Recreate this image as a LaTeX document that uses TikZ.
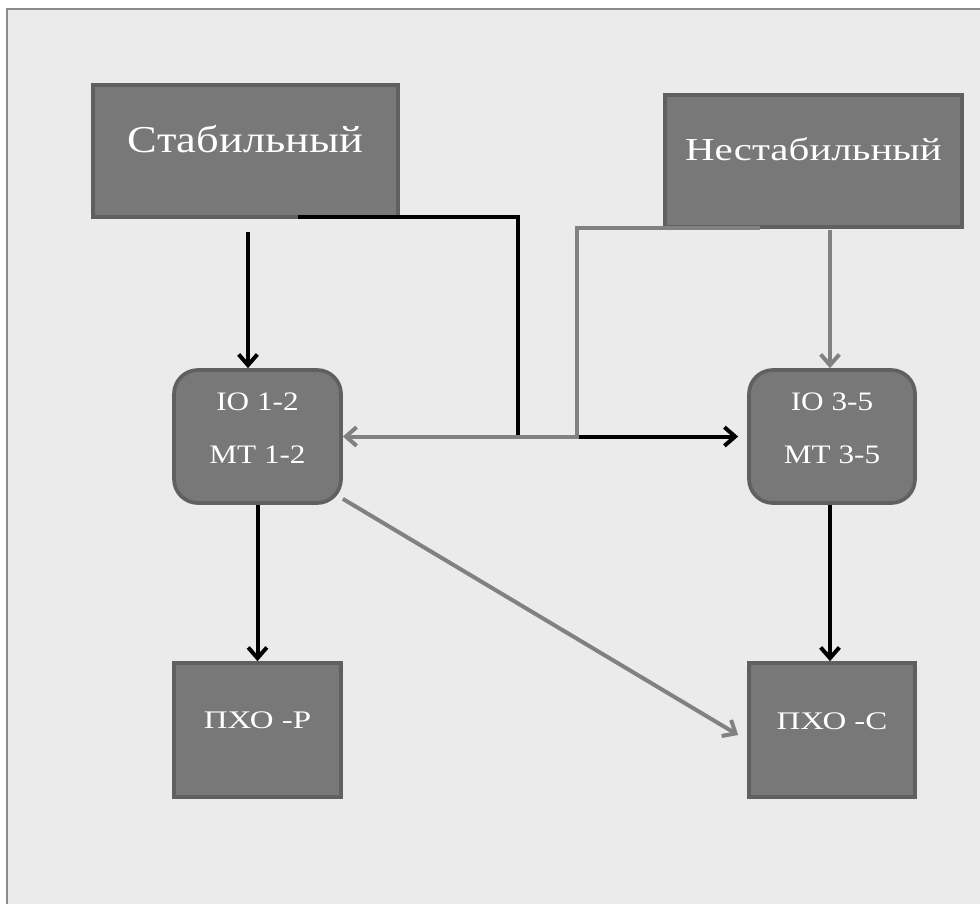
\documentclass[tikz,border=0pt]{standalone}
\usepackage{graphicx}
\usepackage{fontspec}
\setmainfont{Liberation Serif}
\usetikzlibrary{arrows.meta,calc}
\definecolor{bgc}{HTML}{EBEBEB}
\definecolor{framec}{HTML}{8C8C8C}
\definecolor{boxc}{HTML}{787878}
\definecolor{boxb}{HTML}{606060}
\definecolor{grayl}{HTML}{818181}
\newcommand{\wide}[2][1.17]{\scalebox{#1}[1]{#2}}
\newcommand{\lift}[2]{\raisebox{#1}[\height][\depth]{#2}}
\tikzset{
  box/.style={draw=boxb, fill=boxc, line width=2.8pt, text=white, inner sep=0pt, align=center},
  rbox/.style={box, rounded corners=18pt},
  blk/.style={draw=black, line width=3pt, -{Straight Barb[length=8pt,width=14pt,line width=3pt]}},
  gry/.style={draw=grayl, line width=3pt, -{Straight Barb[length=8pt,width=14pt,line width=3pt]}},
}
\begin{document}
\begin{tikzpicture}[x=0.75pt,y=-0.75pt]
\useasboundingbox (0,0) rectangle (980,904);
\fill[white] (0,0) rectangle (980,904);
\fill[bgc] (7,9) rectangle (980,904);
\draw[framec, line width=1.2pt] (7,904) -- (7,9) -- (980,9);

\node[box, minimum width={305*0.75pt}, minimum height={132*0.75pt}, font=\fontsize{28.5pt}{30pt}\selectfont] (stab) at (245.5,151) {\lift{9pt}{\wide{Стабильный}}};
\node[box, minimum width={297*0.75pt}, minimum height={132*0.75pt}, font=\fontsize{24pt}{26pt}\selectfont] (nest) at (813.5,161) {\lift{8.5pt}{\wide[1.28]{Нестабильный}}};
\node[rbox, minimum width={167*0.75pt}, minimum height={133*0.75pt}, font=\fontsize{20pt}{24pt}\selectfont] (io12) at (257.5,436.5) {\lift{4.5pt}{\begin{tabular}{@{}c@{}}\wide{IO 1-2}\\[15.75pt]\wide{MT 1-2}\end{tabular}}};
\node[rbox, minimum width={166*0.75pt}, minimum height={133*0.75pt}, font=\fontsize{20pt}{24pt}\selectfont] (io35) at (832,436.5) {\lift{4.5pt}{\begin{tabular}{@{}c@{}}\wide{IO 3-5}\\[15.75pt]\wide{MT 3-5}\end{tabular}}};
\node[box, minimum width={167*0.75pt}, minimum height={134*0.75pt}, font=\fontsize{19pt}{21pt}\selectfont] (pxor) at (257.5,730) {\lift{7.5pt}{\wide[1.3]{ПХО -Р}}};
\node[box, minimum width={166*0.75pt}, minimum height={134*0.75pt}, font=\fontsize{19pt}{21pt}\selectfont] (pxos) at (832,730) {\lift{6.75pt}{\wide[1.3]{ПХО -С}}};

% black connectors
\draw[blk] ($(stab.south)+(2.5,13)$) -- ($(io12.north)+(-9.5,0)$);
\draw[blk, shorten >=6.75pt] ($(stab.south)+(52.5,-2)$) -- ++(220,0) |- (io35.west);
% gray connectors
\draw[gry] ($(nest.south)+(-53.5,-1)$) -- ++(-183,0) |- (io12.east);
\draw[gry] ($(nest.south)+(16.5,1)$) -- ($(io35.north)+(-2,0)$);
\draw[blk] (io12.south) -- (pxor.north);
\draw[blk] ($(io35.south)+(-2,0)$) -- ($(pxos.north)+(-2,0)$);
\draw[gry] ($(io12.south east)+(0,-6)$) -- ($(pxos.west)+(-9,5)$);
\end{tikzpicture}
\end{document}
